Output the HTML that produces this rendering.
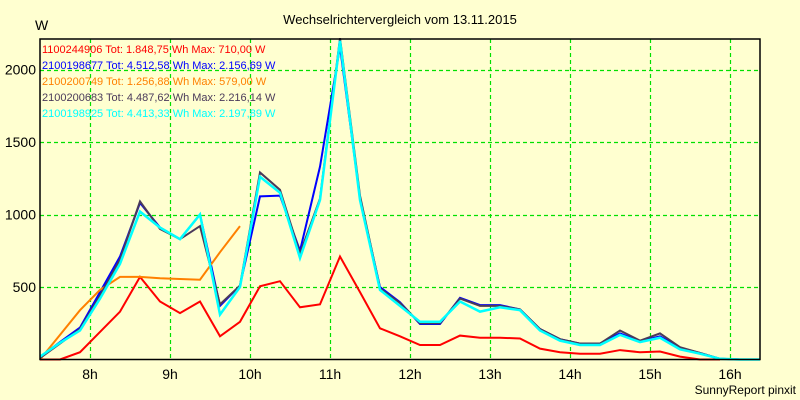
<!DOCTYPE html>
<html><head><meta charset="utf-8"><style>
body{margin:0;background:#ffffd0;}
svg{display:block;font-family:"Liberation Sans",sans-serif;}
</style></head><body>
<svg id="chart" width="800" height="400" xmlns="http://www.w3.org/2000/svg">
<rect x="0" y="0" width="800" height="400" fill="#ffffd0"/>
<text x="400" y="24" text-anchor="middle" font-size="13" fill="#000">Wechselrichtervergleich vom 13.11.2015</text>
<text x="35" y="30" font-size="14" fill="#000">W</text>
<text x="796" y="394" text-anchor="end" font-size="12" fill="#000">SunnyReport pinxit</text>
<g id="grid"></g>
<g id="series"></g>
<rect x="40" y="39" width="720" height="320.5" fill="none" stroke="#000" stroke-width="1.5"/>
<g id="legend" font-size="11"></g>
<g id="axes" font-size="14"></g>
</svg>
<script>
const NS="http://www.w3.org/2000/svg";
const startHour=7.375, stepHour=0.25;
const yTicks=[500,1000,1500,2000];
const xTickHours=[8,9,10,11,12,13,14,15,16];
const xTickLabels=["8h","9h","10h","11h","12h","13h","14h","15h","16h"];
const seriesNames=["1100244906","2100198677","2100200749","2100200683","2100198925"];
const seriesColors=["#ff0000","#0000ff","#ff8000","#4a3a5a","#00ffff"];
const legendTexts=["1100244906 Tot: 1.848,75 Wh Max: 710,00 W","2100198677 Tot: 4.512,58 Wh Max: 2.156,69 W","2100200749 Tot: 1.256,88 Wh Max: 579,00 W","2100200683 Tot: 4.487,62 Wh Max: 2.216,14 W","2100198925 Tot: 4.413,33 Wh Max: 2.197,89 W"];
const red=[0,0,50,190,330,570,400,320,400,160,260,505,540,360,380,710,465,215,160,100,100,165,150,150,145,75,50,40,40,65,50,55,20,0,0];
const blue=[15,120,220,465,710,1080,910,830,1000,370,510,1125,1130,750,1330,2157,1110,500,395,245,245,425,375,375,345,210,140,110,110,180,125,160,80,45,5,0,0];
const orange=[0,170,340,480,570,570,560,555,550,740,920];
const dark=[10,110,210,440,690,1090,900,830,920,380,510,1290,1170,730,1110,2216,1130,490,390,250,250,420,370,370,345,210,140,110,110,200,130,180,85,45,5,0,0];
const cyan=[20,115,200,420,660,1020,910,830,1000,310,500,1260,1150,700,1100,2198,1100,480,370,260,260,400,330,360,340,200,130,100,100,170,120,150,70,40,5,0,0];
const seriesData=[red,blue,orange,dark,cyan];
const X0=40,X1=760,Y0=359.5,Ypx=0.145;
const xH=h=>X0+(h-startHour)*80;
const xi=i=>xH(startHour+i*stepHour);
const yv=v=>Y0-v*Ypx;
const grid=document.getElementById('grid');
yTicks.forEach(v=>{
 const l=document.createElementNS(NS,'line');
 l.setAttribute('x1',X0);l.setAttribute('x2',X1);l.setAttribute('y1',Math.round(yv(v))+0.5);l.setAttribute('y2',Math.round(yv(v))+0.5);
 l.setAttribute('stroke','#00e000');l.setAttribute('stroke-dasharray','4,3');l.setAttribute('stroke-width','1.2');
 
 
 grid.appendChild(l);
});
xTickHours.forEach(h=>{
 const l=document.createElementNS(NS,'line');
 l.setAttribute('x1',xH(h)+0.5);l.setAttribute('x2',xH(h)+0.5);l.setAttribute('y1',39);l.setAttribute('y2',Y0);
 l.setAttribute('stroke','#00e000');l.setAttribute('stroke-dasharray','4,3');l.setAttribute('stroke-width','1.2');
 
 
 grid.appendChild(l);
});
const axes=document.getElementById('axes');
yTicks.forEach(v=>{
 const t=document.createElementNS(NS,'text');
 t.setAttribute('x',36);t.setAttribute('y',yv(v)+5);t.setAttribute('text-anchor','end');
 t.textContent=String(v);
 
 
 axes.appendChild(t);
});
xTickHours.forEach((h,i)=>{
 const t=document.createElementNS(NS,'text');
 t.setAttribute('x',xH(h));t.setAttribute('y',379);t.setAttribute('text-anchor','middle');
 t.textContent=xTickLabels[i];
 
 
 axes.appendChild(t);
});
const sg=document.getElementById('series');
seriesData.forEach((d,s)=>{
 const p=document.createElementNS(NS,'polyline');
 p.setAttribute('points',d.map((v,i)=>xi(i)+','+yv(v)).join(' '));
 p.setAttribute('fill','none');p.setAttribute('stroke',seriesColors[s]);
 p.setAttribute('stroke-width',s===4?'2.5':'2');p.setAttribute('stroke-linejoin','miter');
 
 
 sg.appendChild(p);
});
const lg=document.getElementById('legend');
legendTexts.forEach((txt,i)=>{
 const t=document.createElementNS(NS,'text');
 t.setAttribute('x',42);t.setAttribute('y',53+i*16);t.setAttribute('fill',seriesColors[i]);
 t.textContent=txt;
 
 
 lg.appendChild(t);
});
</script>
</body></html>
